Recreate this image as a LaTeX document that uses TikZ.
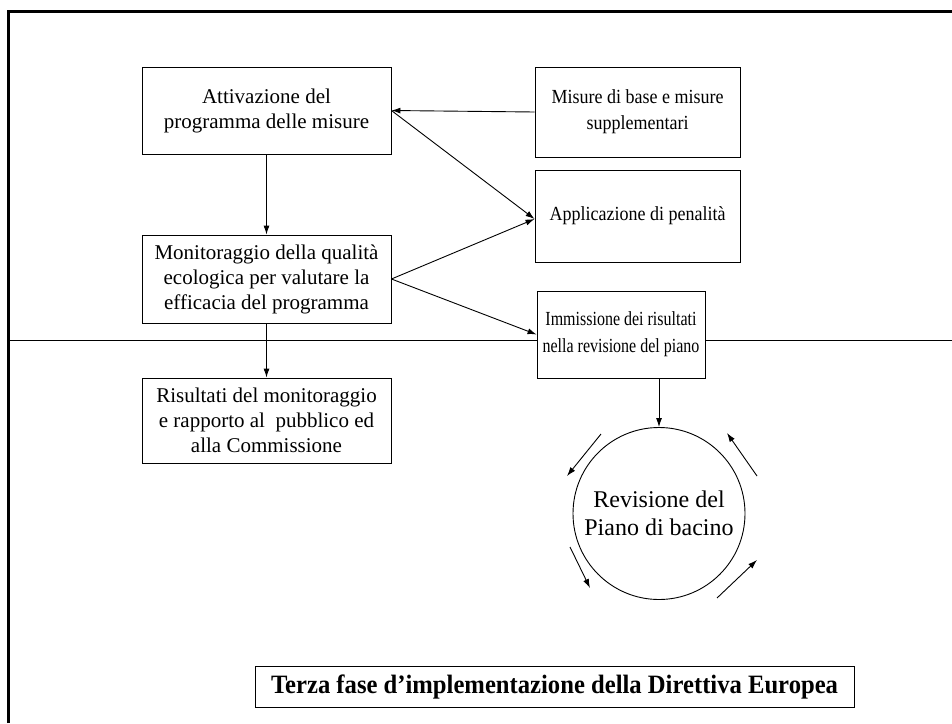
\documentclass[tikz,border=0pt]{standalone}
\usepackage{fontspec}
\setmainfont{Liberation Serif}
\newfontfamily\condfont[FakeStretch=0.9]{Liberation Serif}
\newfontfamily\narrowfont[FakeStretch=0.8]{Liberation Serif}
\newfontfamily\titlefont[FakeStretch=0.93]{Liberation Serif}
\usetikzlibrary{arrows.meta}

\tikzset{
    box/.style={draw, fill=white, line width=0.9pt, align=center, inner sep=0pt,
        font=\fontsize{21}{25}\selectfont},
    condbox/.style={box, font=\condfont\fontsize{20}{26}\selectfont},
    link/.style={line width=0.9pt, -{Latex[length=9pt,width=6pt]}}
}

\begin{document}
\begin{tikzpicture}[x=1pt,y=-1pt]
    \useasboundingbox (0,0) rectangle (952,723);

    % Cornice e linea orizzontale
    \coordinate (F1) at (8,723);
    \coordinate (F2) at (8,11);
    \coordinate (F3) at (952,11);
    \draw[line width=3pt] (F1) -- (F2) -- (F3);
    \coordinate (L1) at (8,340);
    \coordinate (L2) at (952,340);
    \draw[line width=1pt] (L1) -- (L2);

    % Colonna sinistra
    \node[box, minimum width=249pt, minimum height=87pt] (att) at (266.5,110.5)
        {Attivazione del\\programma delle misure};
    \node[box, minimum width=249pt, minimum height=88pt] (mon) at (266.5,279)
        {Monitoraggio della qualità\\ecologica per valutare la\\efficacia del programma};
    \node[box, minimum width=249pt, minimum height=85pt] (ris) at (266.5,420.5)
        {Risultati del monitoraggio\\e rapporto al\ \ pubblico ed\\alla Commissione};

    % Colonna destra
    \node[condbox, minimum width=205pt, minimum height=90pt] (mis) at (637.5,112)
        {Misure di base e misure\\supplementari};
    \node[condbox, minimum width=205pt, minimum height=92pt] (pen) at (637.5,216)
        {Applicazione di penalità};
    \node[condbox, minimum width=168pt, minimum height=87pt,
        font=\narrowfont\fontsize{20}{27}\selectfont] (imm) at (621,334.5)
        {Immissione dei risultati\\nella revisione del piano};

    % Ciclo di revisione
    \node[draw, circle, line width=0.9pt, minimum size=172pt, align=center, inner sep=0pt,
        font=\fontsize{24}{28}\selectfont] (rev) at (659,513.5)
        {Revisione del\\Piano di bacino};

    % Frecce
    \draw[link] (att.south) -- (mon.north);
    \draw[link] (mon.south) -- (ris.north);
    \draw[link] (mis.west) -- (att.east);
    \draw[link] (att.east) -- ([yshift=-3pt]pen.west);
    \draw[link] (mon.east) -- ([yshift=-3pt]pen.west);
    \draw[link] (mon.east) -- (imm.west);
    \draw[link] (rev.north |- imm.south) -- (rev.north);

    % Frecce del ciclo
    \coordinate (c1) at (601,434);
    \coordinate (c2) at (567,476);
    \coordinate (c3) at (570,547);
    \coordinate (c4) at (590,588);
    \coordinate (c5) at (717,598);
    \coordinate (c6) at (757,560);
    \coordinate (c7) at (757,476);
    \coordinate (c8) at (727,433);
    \draw[link] (c1) -- (c2);
    \draw[link] (c3) -- (c4);
    \draw[link] (c5) -- (c6);
    \draw[link] (c7) -- (c8);

    % Titolo
    \node[box, minimum width=599pt, minimum height=41pt,
        font=\titlefont\fontsize{26.5}{30}\selectfont\bfseries] (tit) at (554.5,686.5)
        {Terza fase d’implementazione della Direttiva Europea};
\end{tikzpicture}
\end{document}
